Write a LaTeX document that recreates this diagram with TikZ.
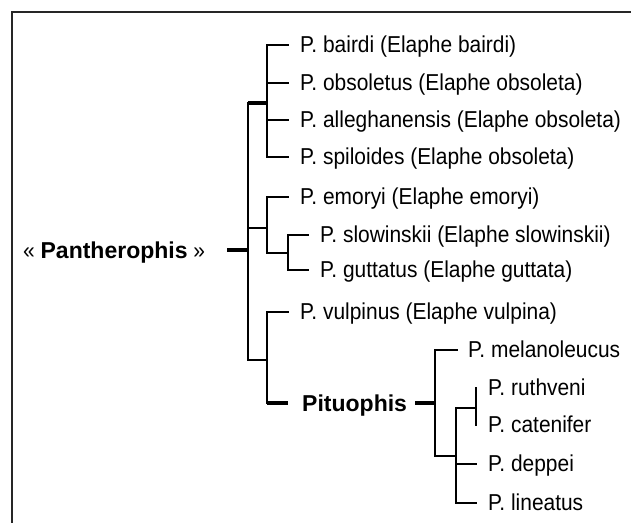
\documentclass[tikz,border=0pt]{standalone}
\usepackage{fontspec}
\setmainfont{Liberation Sans}[FakeStretch=0.91]
\newfontfamily\boldfam{Liberation Sans Bold}
\begin{document}
\begin{tikzpicture}[x=1pt,y=-1pt,
  ln/.style={line width=1.8pt, line cap=rect, black},
  bar/.style={line width=4.5pt, black},
  frame/.style={line width=2.2pt, black!85},
  lbl/.style={anchor=base west, inner sep=0pt, font=\fontsize{23}{23}\selectfont},
  blbl/.style={lbl, font=\fontsize{23}{23}\boldfam}]
\useasboundingbox (0,0) rectangle (631,523);
% frame
\coordinate (fTL) at (12,12);
\coordinate (fTR) at (631,12);
\coordinate (fBL) at (12,523);
\draw[frame] (fTR) -- (fTL) -- (fBL);
% root
\node[lbl] (pan) at (23,258) {« {\boldfam Pantherophis} »};
\coordinate (rootL) at (227,250);
\coordinate (root) at (248,250);
\coordinate (mtop) at (248,103);
\coordinate (mbot) at (248,360);
\draw[ln] (mtop) -- (mbot);
\draw[bar] (rootL) -- (root);
% clade 1
\coordinate (c1) at (267,103);
\coordinate (c1a) at (267,45);
\coordinate (c1d) at (267,157);
\coordinate (tbai) at (288,45);
\coordinate (tobs) at (288,83);
\coordinate (tall) at (288,120);
\coordinate (tspi) at (288,157);
\draw[bar] (mtop) -- (c1);
\draw[ln] (c1a) -- (c1d);
\draw[ln] (c1a) -- (tbai);
\draw[ln] (c1a |- tobs) -- (tobs);
\draw[ln] (c1a |- tall) -- (tall);
\draw[ln] (c1d) -- (tspi);
\node[lbl] (bai) at (300,52) {P. bairdi (Elaphe bairdi)};
\node[lbl] (obs) at (300,90) {P. obsoletus (Elaphe obsoleta)};
\node[lbl] (all) at (300,127) {P. alleghanensis (Elaphe obsoleta)};
\node[lbl] (spi) at (300,164) {P. spiloides (Elaphe obsoleta)};
% clade 2
\coordinate (c2) at (267,228);
\coordinate (c2a) at (267,197);
\coordinate (c2b) at (267,253);
\coordinate (temo) at (288,197);
\coordinate (c2i) at (288,253);
\coordinate (c2ia) at (288,235);
\coordinate (c2ib) at (288,270);
\coordinate (tslo) at (308,235);
\coordinate (tgut) at (308,270);
\draw[ln] (mtop |- c2) -- (c2);
\draw[ln] (c2a) -- (c2b);
\draw[ln] (c2a) -- (temo);
\draw[ln] (c2b) -- (c2i);
\draw[ln] (c2ia) -- (c2ib);
\draw[ln] (c2ia) -- (tslo);
\draw[ln] (c2ib) -- (tgut);
\node[lbl] (emo) at (300,204) {P. emoryi (Elaphe emoryi)};
\node[lbl] (slo) at (320,242) {P. slowinskii (Elaphe slowinskii)};
\node[lbl] (gut) at (320,277) {P. guttatus (Elaphe guttata)};
% clade 3
\coordinate (c3) at (267,360);
\coordinate (c3a) at (267,312);
\coordinate (c3b) at (267,403);
\coordinate (tvul) at (288,312);
\coordinate (tpit) at (288,403);
\draw[ln] (mbot) -- (c3);
\draw[ln] (c3a) -- (c3b);
\draw[ln] (c3a) -- (tvul);
\draw[bar] (c3b) -- (tpit);
\node[lbl] (vul) at (300,319) {P. vulpinus (Elaphe vulpina)};
\node[blbl] (pit) at (302,411) {Pituophis};
% Pituophis clade
\coordinate (pbL) at (415,403);
\coordinate (p0) at (435,403);
\coordinate (p0a) at (435,350);
\coordinate (p0b) at (435,456);
\coordinate (tmel) at (457,350);
\coordinate (p1a) at (456,408);
\coordinate (p1b) at (456,503);
\coordinate (p2) at (476,408);
\coordinate (p2a) at (476,388);
\coordinate (p2b) at (476,425);
\coordinate (tdep) at (476,464);
\coordinate (tlin) at (476,503);
\draw[bar] (pbL) -- (p0);
\draw[ln] (p0a) -- (p0b);
\draw[ln] (p0a) -- (tmel);
\draw[ln] (p0b) -- (p1a |- p0b);
\draw[ln] (p1a) -- (p1b);
\draw[ln] (p1a) -- (p2);
\draw[ln] (p2a) -- (p2b);
\draw[ln] (p1a |- tdep) -- (tdep);
\draw[ln] (p1b) -- (tlin);
\node[lbl] (mel) at (468,357) {P. melanoleucus};
\node[lbl] (rut) at (488,395) {P. ruthveni};
\node[lbl] (cat) at (488,432) {P. catenifer};
\node[lbl] (dep) at (488,471) {P. deppei};
\node[lbl] (lin) at (488,510) {P. lineatus};
\end{tikzpicture}
\end{document}
